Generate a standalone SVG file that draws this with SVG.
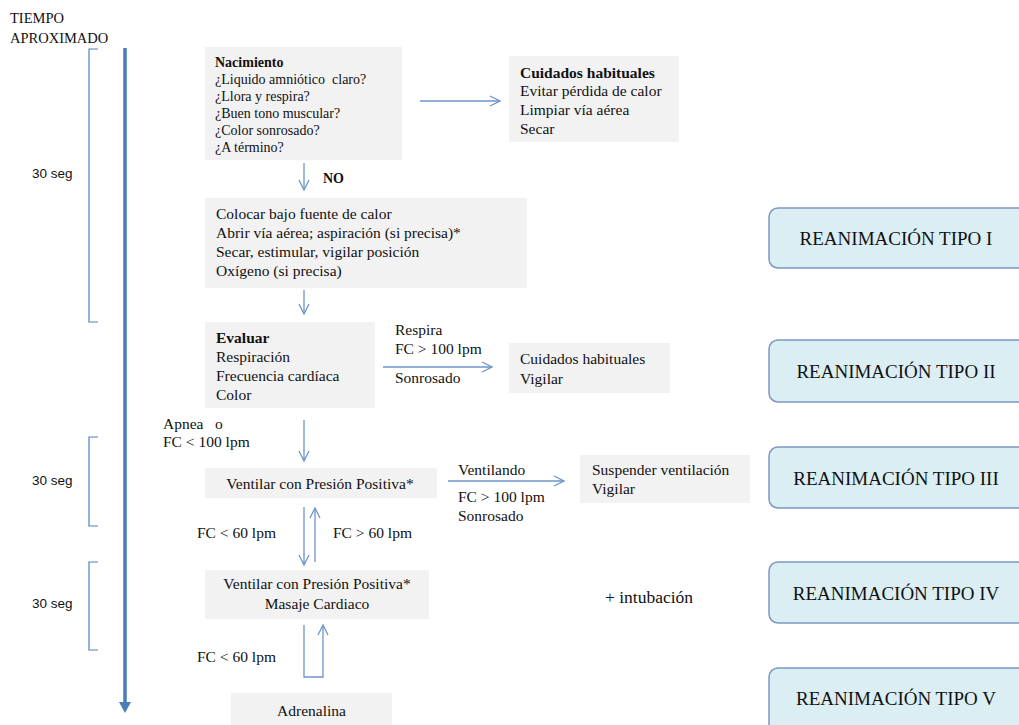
<svg xmlns="http://www.w3.org/2000/svg" width="1019" height="725" viewBox="0 0 1019 725">
<style>
text{font-family:"Liberation Serif","Times New Roman",serif;font-size:15.5px;fill:#111;white-space:pre}
.b{font-weight:bold}
.n{font-size:14px}
.h{font-size:14.5px}
.s{font-family:"Liberation Sans",Arial,sans-serif;font-size:13.5px}
.box{fill:#f2f2f2}
.rb{fill:#dbeef4;stroke:#7f97bf;stroke-width:1.5}
.rt{font-size:19px}
.c{fill:none;stroke:#6d94cb;stroke-width:1.3}
.br{fill:none;stroke:#4f81bd;stroke-width:1.2}
</style>
<defs>
<marker id="v" viewBox="0 0 12 12" refX="11" refY="6" markerWidth="12" markerHeight="12" markerUnits="userSpaceOnUse" orient="auto">
<path d="M1,1 L11,6 L1,11" fill="none" stroke="#6d94cb" stroke-width="1.3"/>
</marker>
</defs>
<g id="timeline">
<text class="h" x="10" y="23">TIEMPO</text>
<text class="h" x="10" y="43">APROXIMADO</text>
<line x1="125" y1="48" x2="125" y2="704" stroke="#4a7ebb" stroke-width="3.5"/>
<path d="M119,702 L131,702 L125,713 Z" fill="#4a7ebb"/>
<path class="br" d="M98,49 L89,49 L89,322 L98,322"/>
<text class="s" x="32" y="178">30 seg</text>
<path class="br" d="M98,437 L89,437 L89,526 L98,526"/>
<text class="s" x="32" y="485">30 seg</text>
<path class="br" d="M98,562 L89,562 L89,650 L98,650"/>
<text class="s" x="32" y="608">30 seg</text>
</g>
<g id="n-nacimiento">
<rect class="box" x="205" y="47" width="197" height="113"/>
<text class="b n" x="215" y="67">Nacimiento</text>
<text class="n" x="215" y="84" xml:space="preserve">¿Liquido amniótico  claro?</text>
<text class="n" x="215" y="101">¿Llora y respira?</text>
<text class="n" x="215" y="118">¿Buen tono muscular?</text>
<text class="n" x="215" y="135">¿Color sonrosado?</text>
<text class="n" x="215" y="152">¿A término?</text>
</g>
<g id="n-cuidados1">
<rect class="box" x="509" y="56" width="170" height="86"/>
<text class="b" x="520" y="78">Cuidados habituales</text>
<text x="520" y="96">Evitar pérdida de calor</text>
<text x="520" y="115">Limpiar vía aérea</text>
<text x="520" y="134">Secar</text>
</g>
<g id="n-colocar">
<rect class="box" x="205" y="198" width="322" height="90"/>
<text x="216" y="219">Colocar bajo fuente de calor</text>
<text x="216" y="238">Abrir vía aérea; aspiración (si precisa)*</text>
<text x="216" y="257">Secar, estimular, vigilar posición</text>
<text x="216" y="276">Oxígeno (si precisa)</text>
</g>
<g id="n-evaluar">
<rect class="box" x="205" y="322" width="170" height="86"/>
<text class="b" x="216" y="343">Evaluar</text>
<text x="216" y="362">Respiración</text>
<text x="216" y="381">Frecuencia cardíaca</text>
<text x="216" y="400">Color</text>
</g>
<g id="n-cuidados2">
<rect class="box" x="509" y="343" width="161" height="50"/>
<text x="520" y="364">Cuidados habituales</text>
<text x="520" y="384">Vigilar</text>
</g>
<g id="n-ventilar">
<rect class="box" x="205" y="468" width="232" height="30"/>
<text x="320" y="489" text-anchor="middle">Ventilar con Presión Positiva*</text>
</g>
<g id="n-suspender">
<rect class="box" x="580" y="455" width="170" height="48"/>
<text x="592" y="475">Suspender ventilación</text>
<text x="592" y="494">Vigilar</text>
</g>
<g id="n-masaje">
<rect class="box" x="205" y="570" width="224" height="49"/>
<text x="317" y="589" text-anchor="middle">Ventilar con Presión Positiva*</text>
<text x="317" y="609" text-anchor="middle">Masaje Cardiaco</text>
</g>
<g id="n-adrenalina">
<rect class="box" x="231" y="693" width="161" height="32"/>
<text x="311.5" y="716" text-anchor="middle">Adrenalina</text>
</g>
<g id="n-intubacion">
<text x="605" y="603" style="font-size:17.5px">+ intubación</text>
</g>
<g id="n-tipo1"><rect class="rb" x="769" y="208" width="270" height="60" rx="9"/><text class="rt" x="896" y="245" text-anchor="middle">REANIMACIÓN TIPO I</text></g>
<g id="n-tipo2"><rect class="rb" x="769" y="340" width="270" height="62" rx="9"/><text class="rt" x="896" y="378" text-anchor="middle">REANIMACIÓN TIPO II</text></g>
<g id="n-tipo3"><rect class="rb" x="769" y="447" width="270" height="61" rx="9"/><text class="rt" x="896" y="485" text-anchor="middle">REANIMACIÓN TIPO III</text></g>
<g id="n-tipo4"><rect class="rb" x="769" y="562" width="270" height="61" rx="9"/><text class="rt" x="896" y="600" text-anchor="middle">REANIMACIÓN TIPO IV</text></g>
<g id="n-tipo5"><rect class="rb" x="769" y="668" width="270" height="70" rx="9"/><text class="rt" x="896" y="705" text-anchor="middle">REANIMACIÓN TIPO V</text></g>
<g id="connectors">
<line class="c" x1="420" y1="101" x2="500" y2="101" marker-end="url(#v)"/>
<line class="c" x1="304" y1="163" x2="304" y2="190" marker-end="url(#v)"/>
<text class="b n" x="323" y="183">NO</text>
<line class="c" x1="304" y1="290" x2="304" y2="314" marker-end="url(#v)"/>
<line class="c" x1="383" y1="367" x2="492" y2="367" marker-end="url(#v)"/>
<text x="395" y="335">Respira</text>
<text x="395" y="354">FC &gt; 100 lpm</text>
<text x="395" y="383">Sonrosado</text>
<line class="c" x1="304" y1="420" x2="304" y2="461" marker-end="url(#v)"/>
<text x="163" y="429" xml:space="preserve">Apnea   o</text>
<text x="163" y="447">FC &lt; 100 lpm</text>
<line class="c" x1="448" y1="481" x2="564" y2="481" marker-end="url(#v)"/>
<text x="458" y="475">Ventilando</text>
<text x="458" y="502">FC &gt; 100 lpm</text>
<text x="458" y="521">Sonrosado</text>
<line class="c" x1="304" y1="507" x2="304" y2="565" marker-end="url(#v)"/>
<line class="c" x1="315" y1="562" x2="315" y2="508" marker-end="url(#v)"/>
<text x="197" y="538">FC &lt; 60 lpm</text>
<text x="333" y="538">FC &gt; 60 lpm</text>
<path class="c" d="M304,625 L304,677 L323,677 L323,625" marker-end="url(#v)"/>
<text x="197" y="662">FC &lt; 60 lpm</text>
</g>
</svg>
